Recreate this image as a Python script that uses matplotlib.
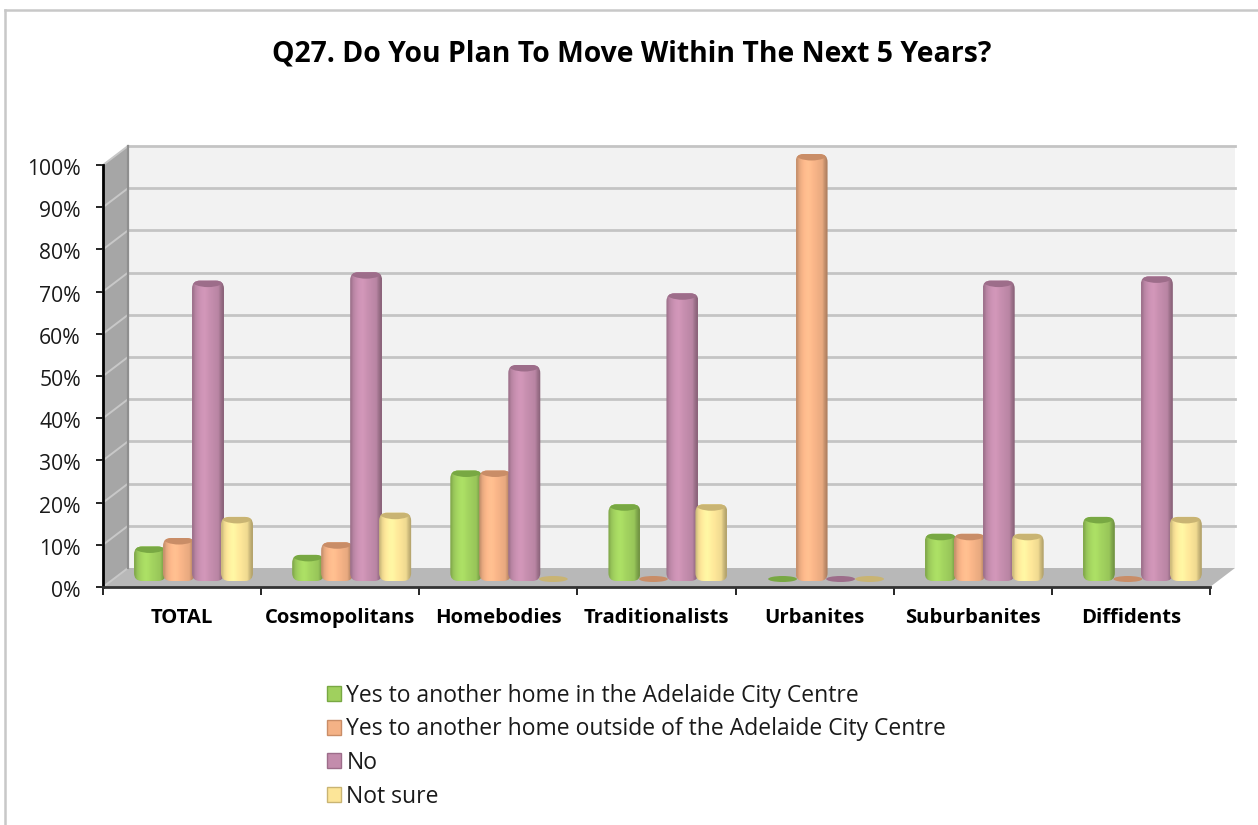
import matplotlib
matplotlib.use("Agg")
import matplotlib.pyplot as plt
import matplotlib.transforms as mtransforms
import numpy as np
from matplotlib.patches import Ellipse, FancyBboxPatch, Patch, Polygon

categories = ["TOTAL", "Cosmopolitans", "Homebodies", "Traditionalists", "Urbanites", "Suburbanites", "Diffidents"]
series_names = [
    "Yes to another home in the Adelaide City Centre",
    "Yes to another home outside of the Adelaide City Centre",
    "No",
    "Not sure",
]
yes_inside = [7, 5, 25, 17, 0, 10, 14]
yes_outside = [9, 8, 25, 0, 100, 10, 0]
no_move = [70, 72, 50, 67, 0, 70, 71]
not_sure = [14, 15, 0, 17, 0, 10, 14]
y_ticks = [0, 10, 20, 30, 40, 50, 60, 70, 80, 90, 100]

main_colors = ["#a0d05e", "#f4b286", "#c38cac", "#fce598"]
cap_colors = ["#78a843", "#c98d67", "#9d6d8a", "#c9b473"]

W, H = 1258, 825
LEFT, RIGHT, BOTTOM, TOP = 103, 1210, 587, 165
PX_X = 7 / (RIGHT - LEFT)
PX_Y = 100 / (BOTTOM - TOP)
DEPTH_X = 25 * PX_X
DEPTH_Y = 19 * PX_Y

plt.rcParams["font.family"] = ["Open Sans", "DejaVu Sans"]
fig = plt.figure(figsize=(W / 100, H / 100), dpi=100, facecolor="white")
ax = fig.add_axes([LEFT / W, 1 - BOTTOM / H, (RIGHT - LEFT) / W, (BOTTOM - TOP) / H])
ax.patch.set_visible(False)

# only the left and top edges of the chart frame show
for xs, ys in [([5, 5], [10, 825]), ([5, 1258], [10, 10])]:
    fig.add_artist(plt.Line2D(np.array(xs) / W, 1 - np.array(ys) / H, color="#c8c8c8", lw=1.8))

# walls and floor
ax.add_patch(Polygon([(DEPTH_X, DEPTH_Y), (7 + DEPTH_X, DEPTH_Y), (7 + DEPTH_X, 100 + DEPTH_Y), (DEPTH_X, 100 + DEPTH_Y)],
                     fc="#f2f2f2", ec="none", zorder=1, clip_on=False))
ax.add_patch(Polygon([(0, 0), (DEPTH_X, DEPTH_Y), (DEPTH_X, 100 + DEPTH_Y), (0, 100)], fc="#a6a6a6", ec="none", zorder=1, clip_on=False))
ax.add_patch(Polygon([(0, 0), (7, 0), (7 + DEPTH_X, DEPTH_Y), (DEPTH_X, DEPTH_Y)], fc="#b8b8b8", ec="none", zorder=1, clip_on=False))
for t in y_ticks:
    if t > 0:
        ax.plot([DEPTH_X, 7 + DEPTH_X], [t + DEPTH_Y, t + DEPTH_Y], color="#c4c4c4", lw=2.0, zorder=2, clip_on=False)
    ax.plot([0, DEPTH_X], [t, t + DEPTH_Y], color="#c8c8c8", lw=1.4, zorder=2, clip_on=False)
ax.plot([DEPTH_X, DEPTH_X], [DEPTH_Y, 100 + DEPTH_Y], color="#8f8f8f", lw=1.6, zorder=2, clip_on=False)

# horizontal shading across one bar
profile = np.array([0.82, 0.94, 1.0, 1.04, 1.07, 1.08, 1.06, 1.03, 1.01, 0.99, 0.97, 0.95, 0.82, 0.72])


def draw_bar(x, value, idx, order):
    width = 32 * PX_X
    base = 6 * PX_Y
    if value == 0:
        ax.add_patch(Ellipse((x + width / 2, base + 2 * PX_Y), width * 0.9, 6 * PX_Y, fc=cap_colors[idx], ec="none",
                             zorder=order, clip_on=False))
        return
    top = base + value + 5 * PX_Y
    shape = FancyBboxPatch((x, base), width, top - base, boxstyle=f"round,pad=0,rounding_size={8 * PX_X}",
                           mutation_aspect=PX_Y / PX_X, fc="none", ec="none", zorder=order, clip_on=False)
    ax.add_patch(shape)
    rgb = np.array(matplotlib.colors.to_rgb(main_colors[idx]))
    img = np.clip(profile[None, :, None] * rgb[None, None, :], 0, 1)
    im = ax.imshow(img, extent=(x, x + width, base, top), aspect="auto", interpolation="bilinear", zorder=order)
    im.set_clip_path(shape)
    im.set_clip_box(fig.bbox)
    cap = Ellipse((x + width * 0.5, top), width * 1.02, 13 * PX_Y, fc=cap_colors[idx], ec="none", zorder=order + 0.1)
    ax.add_patch(cap)
    cap.set_clip_path(shape)
    cap.set_clip_box(fig.bbox)


all_series = [yes_inside, yes_outside, no_move, not_sure]
for i in range(len(categories)):
    start = i + 31 * PX_X
    for j, vals in enumerate(all_series):
        draw_bar(start + j * 29 * PX_X, vals[i], j, 5 + j)

ax.set_xlim(0, 7)
ax.set_ylim(0, 100)
ax.set_yticks(y_ticks)
ax.set_yticklabels([f"{t}%" for t in y_ticks], fontsize=15.2, color="#1a1a1a")
ax.set_xticks(range(8))
ax.set_xticklabels([])
ax.set_xticks(np.arange(7) + 0.5, minor=True)
ax.set_xticklabels(categories, minor=True, fontsize=14.6, fontweight="bold", color="black")
ax.tick_params(axis="y", length=5, width=1.2, pad=11)
ax.tick_params(axis="x", which="major", length=6, width=1.2)
ax.tick_params(axis="x", which="minor", length=0, pad=15)
# percent labels sit a little below their ticks
shift = mtransforms.ScaledTranslation(0, -2 / 100, fig.dpi_scale_trans)
for lab in ax.get_yticklabels():
    lab.set_transform(lab.get_transform() + shift)
for side in ["top", "right"]:
    ax.spines[side].set_visible(False)
ax.spines["left"].set_linewidth(2)
ax.spines["bottom"].set_linewidth(2)
ax.spines["bottom"].set_color("#333333")

fig.text(632 / W, 1 - 54 / H, "Q27. Do You Plan To Move Within The Next 5 Years?", fontsize=20.4,
         fontweight="bold", ha="center", va="center", color="black")

handles = [Patch(fc=c, ec=e, lw=1) for c, e in zip(main_colors, cap_colors)]
fig.legend(handles, series_names, loc="upper left", bbox_to_anchor=(318 / W, 1 - 674.5 / H), frameon=False,
           fontsize=16.5, handlelength=0.62, handleheight=0.62, handletextpad=0.22, labelspacing=0.42,
           labelcolor="#1a1a1a", borderpad=0.4, borderaxespad=0)

fig.savefig("out.png", dpi=100)
